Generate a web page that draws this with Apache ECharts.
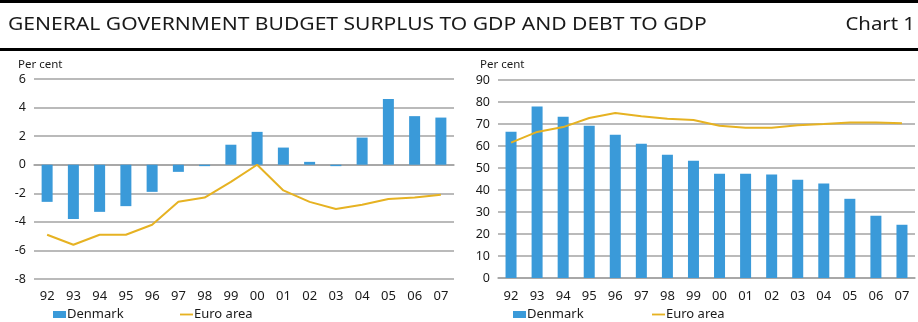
<!DOCTYPE html>
<html>
<head>
<meta charset="utf-8">
<script src="https://cdn.jsdelivr.net/npm/echarts@6/dist/echarts.min.js"></script>
<style>
  html, body { margin: 0; padding: 0; background: #fff; }
  #chart { width: 918px; height: 322px; }
</style>
</head>
<body>
<div id="chart"></div>
<script>
const years = ['92', '93', '94', '95', '96', '97', '98', '99', '00', '01', '02', '03', '04', '05', '06', '07'];

// budget surplus, per cent of GDP
const surplusDenmark = [-2.6, -3.8, -3.3, -2.9, -1.9, -0.5, -0.1, 1.4, 2.3, 1.2, 0.2, -0.1, 1.9, 4.6, 3.4, 3.3];
const surplusEuro = [-4.9, -5.6, -4.9, -4.9, -4.2, -2.6, -2.3, -1.2, 0.0, -1.8, -2.6, -3.1, -2.8, -2.4, -2.3, -2.1];

// debt, per cent of GDP
const debtDenmark = [66.5, 77.9, 73.3, 69.2, 65.1, 61.0, 56.0, 53.3, 47.4, 47.4, 47.0, 44.7, 42.9, 36.0, 28.3, 24.2];
const debtEuro = [61.5, 66.4, 68.6, 72.7, 75.0, 73.5, 72.4, 71.8, 69.2, 68.3, 68.3, 69.4, 70.0, 70.7, 70.7, 70.3];

const FONT = 'Noto Sans';
const BLUE = '#3a9ad9';
const GOLD = '#e6b222';
const GRID_GRAY = '#a3a3a3';
const TEXT = '#1a1a1a';

const chart = echarts.init(document.getElementById('chart'));

const labelStyle = { color: TEXT, fontFamily: FONT, fontSize: 13 };

const yAxisBase = (min, max, interval) => ({
  type: 'value',
  min: min,
  max: max,
  interval: interval,
  axisLine: { show: false },
  axisTick: { show: false },
  axisLabel: { ...labelStyle, fontSize: 12.5, margin: 8 },
  splitLine: { lineStyle: { color: GRID_GRAY, width: 1.5 } },
});

// one legend per entry so each can sit where the original has it
const legendItem = (name, left) => ({
  data: [name === 'Denmark'
    ? { name: name, icon: 'rect' }
    : { name: name, icon: 'path://M0,0 L12,0 L12,1.7 L0,1.7 Z' }],
  left: left, top: 308, padding: 0, itemWidth: 13, itemHeight: 7,
  textStyle: { ...labelStyle, padding: [0, 0, 0, -4] },
});

const option = {
  animation: false,
  textStyle: { fontFamily: FONT },
  title: [
    { text: 'Per cent', left: 13, top: 54,
      textStyle: { fontFamily: FONT, fontSize: 11.5, fontWeight: 'normal', color: TEXT } },
    { text: 'Per cent', left: 475, top: 54,
      textStyle: { fontFamily: FONT, fontSize: 11.5, fontWeight: 'normal', color: TEXT } },
  ],
  graphic: [
    { type: 'rect', shape: { x: 0, y: 0, width: 918, height: 3 }, style: { fill: '#000' } },
    { type: 'rect', shape: { x: 0, y: 48, width: 918, height: 3 }, style: { fill: '#000' } },
    { type: 'text', x: 8, y: 25, scaleX: 1.17,
      style: { text: 'GENERAL GOVERNMENT BUDGET SURPLUS TO GDP AND DEBT TO GDP', fill: TEXT,
        font: '18px "Noto Sans"', verticalAlign: 'middle', align: 'left' } },
    { type: 'text', x: 915, y: 25, scaleX: 1.13,
      style: { text: 'Chart 1', fill: TEXT, font: '18px "Noto Sans"', verticalAlign: 'middle', align: 'right' } },
  ],
  legend: [
    legendItem('Denmark', 53),
    legendItem('Euro area', 180),
    legendItem('Denmark', 513),
    legendItem('Euro area', 652),
  ],
  grid: [
    { left: 34, top: 79, width: 420, height: 200 },
    { left: 498, top: 80, width: 417, height: 198 },
  ],
  xAxis: [
    // left chart: labels at the bottom
    { type: 'category', data: years, gridIndex: 0, position: 'bottom',
      axisLine: { show: false, onZero: false }, axisTick: { show: false },
      axisLabel: { ...labelStyle, margin: 11 } },
    // left chart: zero line with ticks below
    { type: 'category', data: years, gridIndex: 0, position: 'bottom',
      axisLine: { onZero: true, lineStyle: { color: GRID_GRAY, width: 1.5 } },
      axisTick: { length: 3, lineStyle: { color: GRID_GRAY, width: 1.5 } },
      axisLabel: { show: false } },
    // left chart: ticks above the zero line
    { type: 'category', data: years, gridIndex: 0, position: 'bottom',
      axisLine: { onZero: true, show: false },
      axisTick: { inside: true, length: 3, lineStyle: { color: GRID_GRAY, width: 1.5 } },
      axisLabel: { show: false } },
    // right chart
    { type: 'category', data: years, gridIndex: 1,
      axisLine: { lineStyle: { color: GRID_GRAY, width: 1.5 } },
      axisTick: { length: 4, lineStyle: { color: GRID_GRAY, width: 1.5 } },
      axisLabel: { ...labelStyle, margin: 12 } },
  ],
  yAxis: [
    { ...yAxisBase(-8, 6, 2), gridIndex: 0 },
    { ...yAxisBase(0, 90, 10), gridIndex: 1 },
  ],
  series: [
    { name: 'Denmark', type: 'bar', xAxisIndex: 0, yAxisIndex: 0, data: surplusDenmark,
      barWidth: 11, itemStyle: { color: BLUE }, z: 3 },
    { name: 'Euro area', type: 'line', xAxisIndex: 0, yAxisIndex: 0, data: surplusEuro,
      symbol: 'none', lineStyle: { color: GOLD, width: 2 }, itemStyle: { color: GOLD }, z: 4 },
    { name: 'Denmark', type: 'bar', xAxisIndex: 3, yAxisIndex: 1, data: debtDenmark,
      barWidth: 11, itemStyle: { color: BLUE }, z: 3 },
    { name: 'Euro area', type: 'line', xAxisIndex: 3, yAxisIndex: 1, data: debtEuro,
      symbol: 'none', lineStyle: { color: GOLD, width: 2 }, itemStyle: { color: GOLD }, z: 4 },
  ],
};

chart.setOption(option);
</script>
</body>
</html>
